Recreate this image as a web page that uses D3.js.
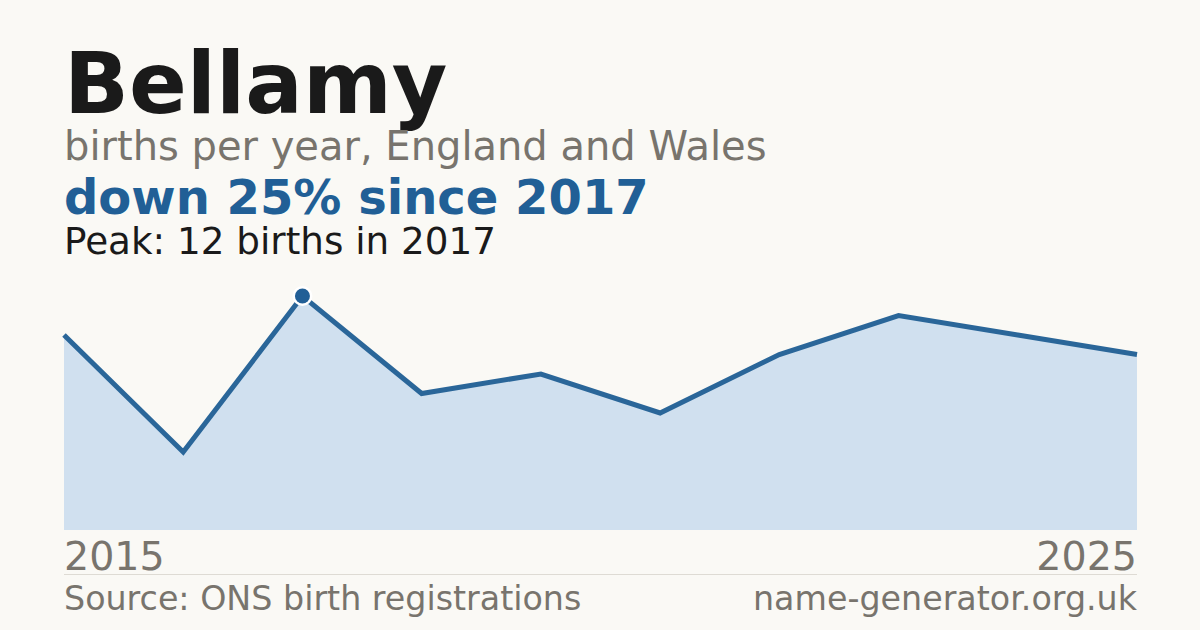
<!DOCTYPE html>
<html>
<head>
<meta charset="utf-8">
<script src="https://cdn.jsdelivr.net/npm/d3@7"></script>
<style>
  html, body { margin: 0; padding: 0; background: #faf9f5; }
  svg { display: block; font-family: "DejaVu Sans", sans-serif; }
</style>
</head>
<body>
<svg id="chart" width="1200" height="630"></svg>
<script>
const years = [2015, 2016, 2017, 2018, 2019, 2020, 2021, 2022, 2023, 2025];
const births = [10, 4, 12, 7, 8, 6, 9, 11, 10, 9];
const tickLabels = ["2015", "2025"];
const peakYear = 2017;
const peakValue = 12;

(function () {
const svg = d3.select("#chart");
const W = 1200, H = 630;
const plotLeft = 64, plotRight = 1137, plotTop = 296, plotBottom = 530;

svg.append("rect").attr("width", W).attr("height", H).attr("fill", "#faf9f5");

svg.append("text").attr("x", 64).attr("y", 113)
  .attr("font-size", 85.3).attr("font-weight", "bold").attr("fill", "#1a1a1a")
  .text("Bellamy");
svg.append("text").attr("x", 64).attr("y", 160)
  .attr("font-size", 40).attr("fill", "#78746d")
  .text("births per year, England and Wales");
svg.append("text").attr("x", 64).attr("y", 214)
  .attr("font-size", 48).attr("font-weight", "bold").attr("fill", "#215f96")
  .text("down 25% since 2017");
svg.append("text").attr("x", 64).attr("y", 254)
  .attr("font-size", 37.3).attr("fill", "#1a1a1a")
  .text("Peak: " + peakValue + " births in " + peakYear);

const x = d3.scalePoint().domain(years).range([plotLeft, plotRight]);
const y = d3.scaleLinear().domain([0, d3.max(births)]).range([plotBottom, plotTop]);

const data = years.map((yr, i) => ({ yr, v: births[i] }));

svg.append("path").datum(data)
  .attr("fill", "#d0e0ef")
  .attr("d", d3.area().x(d => x(d.yr)).y0(y(0)).y1(d => y(d.v)));

svg.append("path").datum(data)
  .attr("fill", "none").attr("stroke", "#2a6699").attr("stroke-width", 5)
  .attr("stroke-linejoin", "miter")
  .attr("d", d3.line().x(d => x(d.yr)).y(d => y(d.v)));

svg.append("circle")
  .attr("cx", x(peakYear)).attr("cy", y(peakValue)).attr("r", 10)
  .attr("fill", "#ffffff");
svg.append("circle")
  .attr("cx", x(peakYear)).attr("cy", y(peakValue)).attr("r", 7.5)
  .attr("fill", "#215f96");

svg.append("text").attr("x", plotLeft).attr("y", 570)
  .attr("font-size", 39.6).attr("fill", "#78746d").text(tickLabels[0]);
svg.append("text").attr("x", plotRight).attr("y", 570).attr("text-anchor", "end")
  .attr("font-size", 39.6).attr("fill", "#78746d").text(tickLabels[1]);

svg.append("line").attr("x1", plotLeft).attr("x2", plotRight).attr("y1", 574.5).attr("y2", 574.5)
  .attr("stroke", "#dedbd4").attr("stroke-width", 1);

svg.append("text").attr("x", plotLeft).attr("y", 610)
  .attr("font-size", 33.3).attr("fill", "#78746d").text("Source: ONS birth registrations");
svg.append("text").attr("x", plotRight).attr("y", 610).attr("text-anchor", "end")
  .attr("font-size", 33.3).attr("fill", "#78746d").text("name-generator.org.uk");
})();
</script>
</body>
</html>
